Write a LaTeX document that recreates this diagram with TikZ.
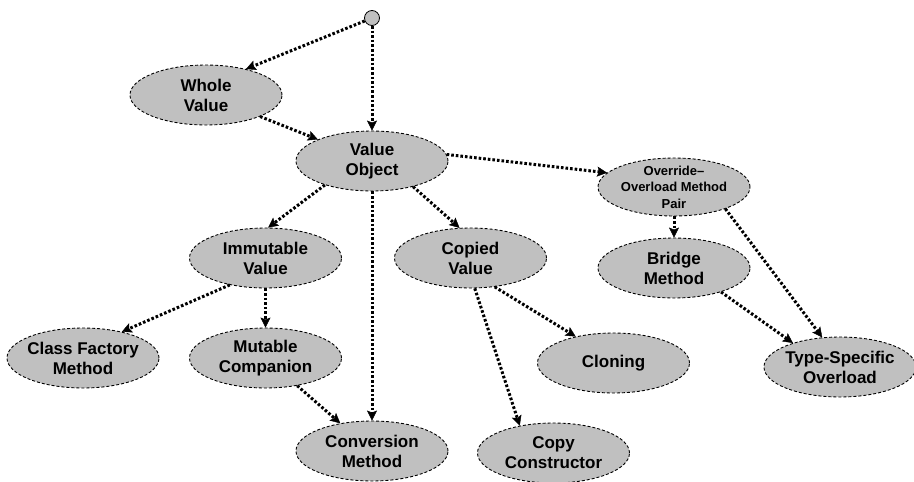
\documentclass[tikz,border=0pt]{standalone}
\usepackage{fontspec}
\setmainfont{Liberation Sans}
\usetikzlibrary{shapes.geometric,arrows.meta}
\definecolor{nodefill}{RGB}{192,192,192}
\begin{document}
\begin{tikzpicture}[x=1pt,y=-1pt,
  ell/.style={ellipse, draw, fill=nodefill, dash pattern=on 3pt off 2pt, line width=0.9pt,
    minimum width=152pt, minimum height=60pt, inner xsep=-4pt, inner ysep=-4pt,
    align=center, font=\bfseries\fontsize{17}{20}\selectfont},
  smalltxt/.style={font=\bfseries\fontsize{13}{16.5}\selectfont, minimum height=58pt},
  arr/.style={line width=3pt, dash pattern=on 2.6pt off 2pt,
    -{Stealth[length=10pt,width=10pt,inset=2pt,line width=0.4pt]}}]
\useasboundingbox (0,0) rectangle (914,482);
\node[circle, draw, fill=nodefill, line width=0.8pt, minimum size=15pt, inner sep=0pt] (start) at (372,18) {};
\node[ell] (whole) at (206,95) {Whole\\Value};
\node[ell] (vo) at (372,161) {Value\\Object};
\node[ell,smalltxt] (ov) at (674,187) {Override–\\Overload Method\\Pair};
\node[ell] (imm) at (265.5,258) {Immutable\\Value};
\node[ell] (cop) at (470.5,258) {Copied\\Value};
\node[ell] (br) at (674,268) {Bridge\\Method};
\node[ell] (cf) at (83,358) {Class Factory\\Method};
\node[ell] (mut) at (265.5,358) {Mutable\\Companion};
\node[ell] (clon) at (613.5,363) {Cloning};
\node[ell] (ts) at (840,367) {Type-Specific\\Overload};
\node[ell] (conv) at (372,451) {Conversion\\Method};
\node[ell] (cc) at (553.5,453) {Copy\\Constructor};
\draw[arr] (start) -- (whole.33);
\draw[arr] (start) -- (vo);
\draw[arr] (whole) -- (vo);
\draw[arr] (vo.5) -- (ov.168);
\draw[arr] (vo.207) -- (imm.85);
\draw[arr] (vo) -- (conv);
\draw[arr] (vo.-32) -- (cop.110);
\draw[arr] (ov) -- (br);
\draw[arr] (ov.-23) -- (ts.121);
\draw[arr] (br.-27) -- (ts.153);
\draw[arr] (imm.217) -- (cf.34);
\draw[arr] (imm) -- (mut);
\draw[arr] (mut) -- (conv);
\draw[arr] (cop.-50) -- (clon.145);
\draw[arr] (cop.-82) -- (cc.141);
\end{tikzpicture}
\end{document}
